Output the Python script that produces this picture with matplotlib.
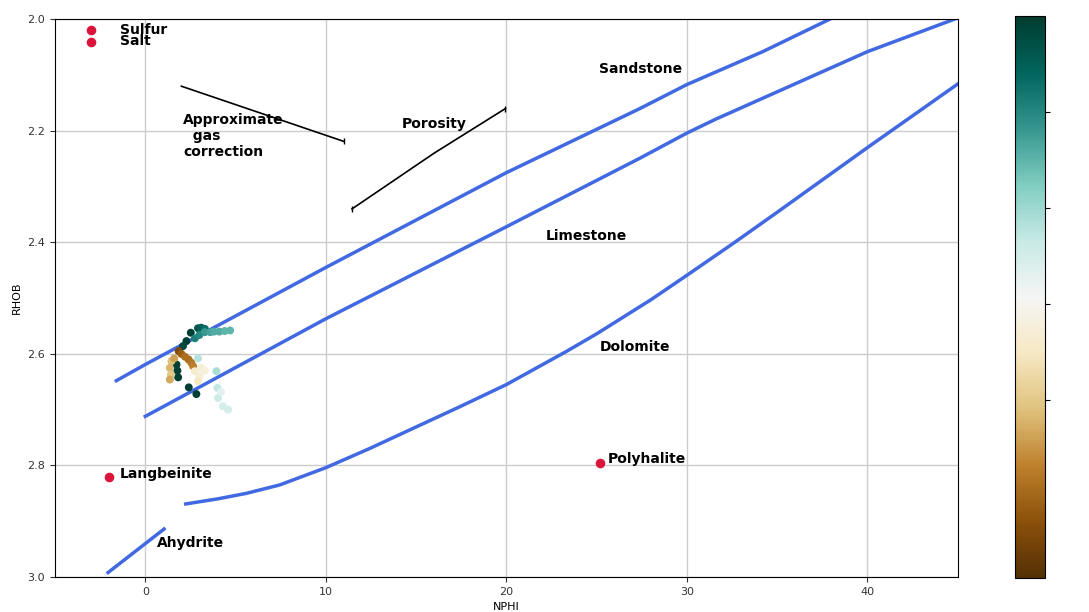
import numpy as np
import matplotlib
matplotlib.use('Agg')
import matplotlib.pyplot as plt

# lithology lines (NPHI, RHOB)
sand_nphi = [-1.6, 0, 10, 20, 27.4, 30, 34.2, 37.9]
sand_rhob = [2.648, 2.619, 2.445, 2.275, 2.160, 2.117, 2.058, 2.0]
lime_nphi = [0, 10, 20, 27.4, 30, 31.6, 40, 44.8]
lime_rhob = [2.712, 2.537, 2.372, 2.249, 2.204, 2.179, 2.058, 2.0]
dolo_nphi = [2.24, 4.0, 5.6, 7.44, 10, 12.4, 14.8, 17.4, 20, 23.3, 25, 28, 30, 32.6, 35, 40, 45]
dolo_rhob = [2.869, 2.860, 2.850, 2.835, 2.804, 2.770, 2.734, 2.695, 2.655, 2.596, 2.564,
             2.503, 2.459, 2.401, 2.346, 2.230, 2.116]
anhy_nphi = [-2.06, 1.04]
anhy_rhob = [2.992, 2.914]

gas_nphi = [2.0, 11.0]
gas_rhob = [2.12, 2.219]
por_nphi = [11.45, 16.0, 19.95]
por_rhob = [2.34, 2.24, 2.16]

# minerals
min_names = ['Sulfur', 'Salt', 'Langbeinite', 'Polyhalite']
min_nphi = [-3.0, -3.0, -2.0, 25.2]
min_rhob = [2.02, 2.04, 2.82, 2.795]

# log samples
nphi = [2.52, 2.28, 2.09, 1.73, 1.78, 1.82, 2.41, 2.83,
        2.92, 3.1, 3.3,
        2.75, 3.0, 3.3, 3.6, 3.8, 4.1, 4.4, 4.7,
        1.85, 2.0, 2.2, 2.4, 2.55, 2.65,
        1.45, 1.36, 1.42, 1.36, 1.6,
        2.74, 3.1, 3.0, 2.92, 3.3,
        2.92, 3.94, 4.0, 4.03, 4.3, 4.58, 4.2]
rhob = [2.562, 2.577, 2.586, 2.619, 2.630, 2.642, 2.660, 2.672,
        2.554, 2.553, 2.555,
        2.572, 2.566, 2.561, 2.561, 2.560, 2.560, 2.559, 2.558,
        2.595, 2.600, 2.605, 2.610, 2.616, 2.622,
        2.613, 2.625, 2.637, 2.646, 2.608,
        2.631, 2.625, 2.640, 2.649, 2.630,
        2.608, 2.631, 2.661, 2.679, 2.694, 2.700, 2.668]
cval = [5.95, 5.95, 5.8, 5.95, 5.95, 5.95, 5.95, 5.95,
        5.6, 5.5, 5.3,
        5.1, 5.0, 4.8, 4.7, 4.6, 4.6, 4.5, 4.5,
        0.6, 0.9, 1.1, 1.1, 1.2, 1.3,
        1.9, 1.8, 2.0, 1.7, 1.6,
        2.6, 2.7, 2.7, 2.5, 2.8,
        3.8, 3.9, 3.7, 3.6, 3.5, 3.5, 3.3]

fig = plt.figure(figsize=(10.89, 6.12), dpi=100)
ax = fig.add_axes([0.0505, 0.0572, 0.829, 0.9113])
cax = fig.add_axes([0.932, 0.0556, 0.0275, 0.918])

for xs, ys in [(sand_nphi, sand_rhob), (lime_nphi, lime_rhob),
               (dolo_nphi, dolo_rhob), (anhy_nphi, anhy_rhob)]:
    ax.plot(xs, ys, color='royalblue', lw=2.5, solid_joinstyle='round')

ax.plot(gas_nphi, gas_rhob, color='black', lw=1.2, marker='|', markersize=5, markevery=[1])
ax.plot(por_nphi, por_rhob, color='black', lw=1.2, marker='|', markersize=5, markevery=[0, 2])

sc = ax.scatter(nphi, rhob, c=cval, cmap='BrBG', vmin=0.15, vmax=6.0, s=22, zorder=3)

ax.scatter(min_nphi, min_rhob, color='crimson', s=35, zorder=4)
for name, x, y in zip(min_names, min_nphi, min_rhob):
    if name == 'Polyhalite':
        ax.text(x + 0.4, y - 0.006, name, fontsize=10, fontweight='bold', va='center')
    elif name == 'Langbeinite':
        ax.text(-1.4, y - 0.004, name, fontsize=10, fontweight='bold', va='center')
    else:
        ax.text(-1.4, y - 0.001, name, fontsize=10, fontweight='bold', va='center')

ax.text(25.15, 2.089, 'Sandstone', fontsize=10, fontweight='bold', va='center')
ax.text(22.2, 2.388, 'Limestone', fontsize=10, fontweight='bold', va='center')
ax.text(25.15, 2.588, 'Dolomite', fontsize=10, fontweight='bold', va='center')
ax.text(0.65, 2.939, 'Ahydrite', fontsize=10, fontweight='bold', va='center')
ax.text(14.2, 2.188, 'Porosity', fontsize=10, fontweight='bold', va='center')
ax.text(2.1, 2.209, 'Approximate\n  gas\ncorrection', fontsize=10, fontweight='bold', va='center')

ax.set_xlim(-5, 45)
ax.set_ylim(3.0, 2.0)
ax.set_xticks([0, 10, 20, 30, 40])
ax.set_yticks([2.0, 2.2, 2.4, 2.6, 2.8, 3.0])
ax.tick_params(labelsize=8, colors='#333333')
ax.grid(True, color='#cccccc', lw=1)
ax.set_xlabel('NPHI', fontsize=8)
ax.set_ylabel('RHOB', fontsize=8)

cb = fig.colorbar(sc, cax=cax)
cb.set_ticks([2, 3, 4, 5])
cb.ax.tick_params(labelcolor='white', labelsize=8)

fig.savefig('out.png', dpi=100)
